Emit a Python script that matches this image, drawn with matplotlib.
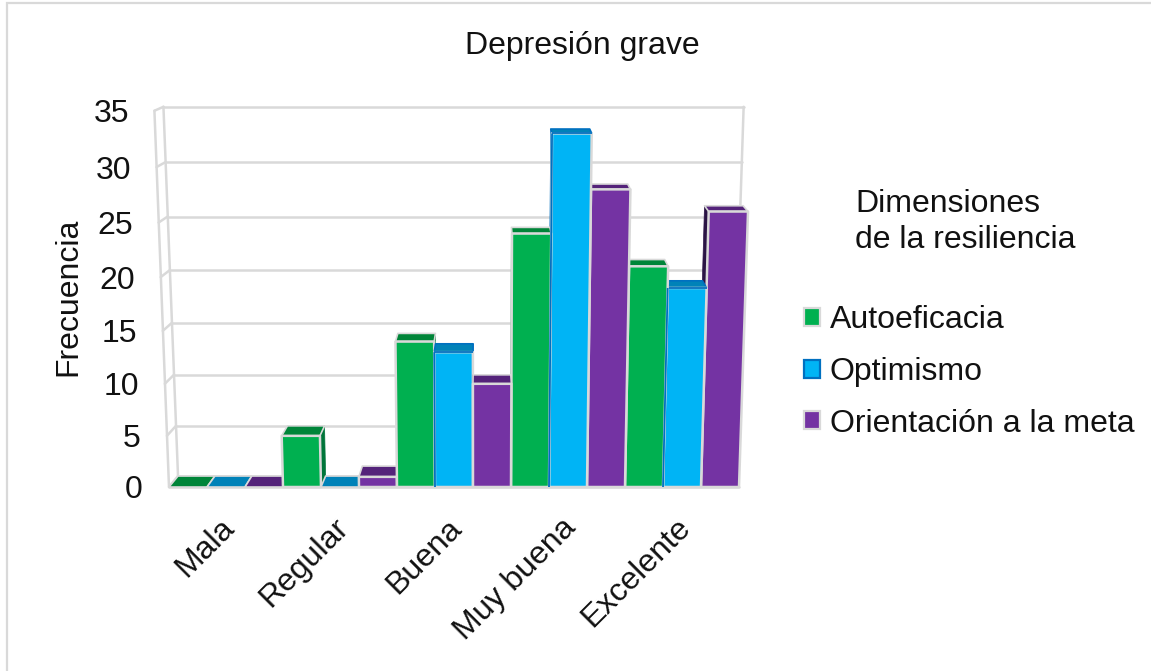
import matplotlib
matplotlib.use("Agg")
import numpy as np
import matplotlib.pyplot as plt
from matplotlib.patches import Polygon, Patch, Rectangle
from matplotlib.transforms import ScaledTranslation

plt.rcParams['font.family'] = ['Liberation Sans', 'DejaVu Sans']

categories = ['Mala', 'Regular', 'Buena', 'Muy buena', 'Excelente']
autoeficacia = [0, 5, 14, 24, 21]
optimismo = [0, 0, 13, 33, 19]
orientacion = [0, 1, 10, 28, 26]
series_names = ['Autoeficacia', 'Optimismo', 'Orientación a la meta']
y_ticks = [0, 5, 10, 15, 20, 25, 30, 35]

W, H = 1151, 671
GRID = '#d9d9d9'
DARK_BLUE = '#0070c0'
FS = 23

front_cols = ['#00b050', '#00b4f5', '#7433a3']
top_cols = ['#008539', '#0082b8', '#54237a']
side_cols = ['#00753a', DARK_BLUE, '#2b1445']

# fake 3d: slots are bar widths, value is the height, depth 0 front, 1 back
CENTER = 8.18
SPREAD = 0.00134
WALL_X = 0.029
BAR_X = 0.019
DEPTH_Y0 = 1.02
DEPTH_Y1 = 0.0186
SAG = 0.0016


def sag(v):
    # the picture's value scale bows a little, most around the middle
    return SAG * v * (35 - v)


def project(slot, v, depth=0.0, inward=None):
    if inward is None:
        inward = WALL_X if slot < CENTER else BAR_X
    x = slot + (slot - CENTER) * SPREAD * v + (CENTER - slot) * inward * depth
    y = v - sag(v) + depth * (DEPTH_Y0 - DEPTH_Y1 * v)
    return x, y


def quad(points, color, edge=GRID, lw=1.8, z=3):
    ax.add_patch(Polygon([project(*p) for p in points], closed=True, facecolor=color,
                         edgecolor=edge, linewidth=lw, joinstyle='round', clip_on=False, zorder=z))


def line(a, b, color=GRID, lw=1.8, z=1, inward=None, cap='round'):
    pa, pb = project(*a, inward), project(*b, inward)
    ax.plot([pa[0], pb[0]], [pa[1], pb[1]], color=color, lw=lw, clip_on=False, zorder=z,
            solid_capstyle=cap)


fig = plt.figure(figsize=(W / 100, H / 100), dpi=100)
fig.patches.append(Rectangle((7 / W, -0.1), 1.2, 1 - 2.5 / H + 0.1, transform=fig.transFigure,
                             facecolor='white', edgecolor=GRID, linewidth=1.6, zorder=-1))

ax = fig.add_axes([169 / W, (H - 487) / H, 570 / W, 376.25 / H])
ax.set_xlim(0, 15)
ax.set_ylim(0, 35)
for s in ax.spines.values():
    s.set_visible(False)
ax.patch.set_alpha(0)

# walls
for v in y_ticks:
    line((0, v, 1), (15, v, 1), inward=WALL_X)
    line((0, v, 0), (0, v, 1), inward=WALL_X)
line((0, 0, 1), (0, 35, 1), inward=WALL_X)
line((0, 0, 0), (0, 35, 0), inward=WALL_X)
line((15, 0, 1), (15, 35, 1), inward=WALL_X)
line((0, 0, 0), (15, 0, 0))

# bars, painted from the outside towards the vanishing centre
values = [autoeficacia, optimismo, orientacion]
bars = []
for c in range(len(categories)):
    for s in range(3):
        bars.append((c * 3 + s, s, values[s][c]))
bars.sort(key=lambda b: -abs(b[0] + 0.5 - CENTER))

for slot, s, v in bars:
    left, right = slot, slot + 1
    edge_x = right if slot + 0.5 < CENTER else left
    if v > 0:
        quad([(edge_x, 0, 0), (edge_x, v, 0), (edge_x, v, 1), (edge_x, 0, 1)], side_cols[s], edge=side_cols[s], lw=0.5)
    top_edge = DARK_BLUE if s == 1 and v > 0 else GRID
    quad([(left, v, 0), (right, v, 0), (right, v, 1), (left, v, 1)], top_cols[s], edge=top_edge, lw=1.2)
    if v > 0:
        quad([(left, 0, 0), (right, 0, 0), (right, v, 0), (left, v, 0)], front_cols[s])
        if s == 1:
            line((left, 0, 0), (left, v, 0), color=DARK_BLUE, lw=1.3, z=4, cap='butt')
            line((left, v, 0), (right, v, 0), color=DARK_BLUE, lw=1.3, z=3, cap='butt')

ax.set_yticks(y_ticks)
ax.set_yticklabels([str(v) for v in y_ticks], fontsize=FS, color='#111111')
ax.tick_params(axis='y', length=0, pad=19)
for v, lab in zip(y_ticks, ax.get_yticklabels()):
    lab.set_transform(lab.get_transform() + ScaledTranslation(-13 * v / 35 / 100, -sag(v) * 10.75 / 100,
                                                              fig.dpi_scale_trans))

ax.set_xticks([1.5, 4.5, 7.5, 10.5, 13.5])
ax.set_xticklabels(categories, fontsize=FS, rotation=45, ha='right', va='top',
                   rotation_mode='anchor', color='#111111')
ax.tick_params(axis='x', length=0, pad=18.5)
for lab in ax.get_xticklabels():
    lab.set_transform(lab.get_transform() + ScaledTranslation(-7 / 100, 0, fig.dpi_scale_trans))

ax.set_ylabel('Frecuencia', fontsize=FS, color='#111111')
ax.yaxis.set_label_coords(-86 / 570, 0.505)

fig.text(582 / W, 1 - 46 / H, 'Depresión grave', fontsize=FS, ha='center', va='center', color='#111111')
fig.text(855 / W, 1 - 222 / H, 'Dimensiones\nde la resiliencia', fontsize=FS, ha='left', va='center',
         color='#111111', linespacing=1.3)

handles = [Patch(facecolor=front_cols[0], edgecolor=GRID, linewidth=1.6, label=series_names[0]),
           Patch(facecolor=front_cols[1], edgecolor=DARK_BLUE, linewidth=1.6, label=series_names[1]),
           Patch(facecolor=front_cols[2], edgecolor=GRID, linewidth=1.6, label=series_names[2])]
fig.legend(handles=handles, loc='center left', bbox_to_anchor=(804 / W, 1 - 372 / H), frameon=False,
           fontsize=FS, handlelength=0.5, handleheight=0.5, handletextpad=0.3, labelspacing=0.68,
           borderpad=0, borderaxespad=0, labelcolor='#111111')

fig.savefig('out.png', dpi=100)
